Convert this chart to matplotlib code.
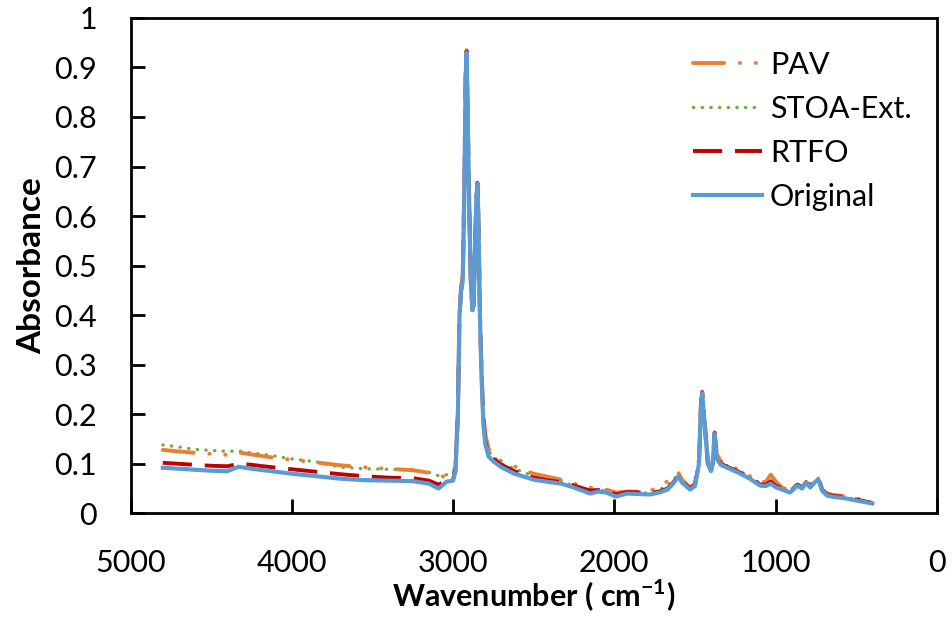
import numpy as np
import matplotlib
matplotlib.use('Agg')
import matplotlib.pyplot as plt

plt.rcParams['font.family'] = ['Lato', 'DejaVu Sans']
plt.rcParams['mathtext.fontset'] = 'custom'
plt.rcParams['mathtext.rm'] = 'Lato'
plt.rcParams['mathtext.bf'] = 'Lato:bold'

# wavenumber grid (cm-1) shared by all four spectra
wn = [4800, 4700, 4600, 4500, 4400, 4330, 4250, 4150, 4000, 3850, 3700, 3550, 3400,
      3250, 3150, 3090, 3040, 3000, 2985, 2970, 2960, 2950, 2940, 2930, 2922, 2916,
      2910, 2900, 2890, 2880, 2872, 2865, 2856, 2849, 2842, 2835, 2825, 2812, 2800,
      2780, 2750, 2700, 2620, 2500, 2400, 2330, 2250, 2150, 2100, 2050, 1990, 1920,
      1850, 1780, 1720, 1670, 1630, 1603, 1580, 1530, 1500, 1475, 1462, 1455, 1445,
      1420, 1400, 1390, 1378, 1365, 1340, 1300, 1230, 1160, 1095, 1060, 1030, 1000,
      960, 910, 865, 835, 810, 785, 750, 735, 710, 680, 640, 580, 500, 400]

original = [0.092, 0.090, 0.088, 0.086, 0.085, 0.094, 0.090, 0.086, 0.080, 0.075, 0.070, 0.067, 0.066,
            0.065, 0.060, 0.050, 0.064, 0.066, 0.085, 0.20, 0.40, 0.45, 0.47, 0.65, 0.88, 0.93,
            0.82, 0.62, 0.47, 0.41, 0.42, 0.52, 0.63, 0.665, 0.58, 0.42, 0.29, 0.18, 0.14,
            0.115, 0.105, 0.093, 0.080, 0.068, 0.063, 0.060, 0.052, 0.040, 0.044, 0.042, 0.034, 0.040,
            0.039, 0.038, 0.042, 0.048, 0.062, 0.075, 0.062, 0.048, 0.055, 0.10, 0.22, 0.243, 0.20,
            0.10, 0.085, 0.10, 0.16, 0.11, 0.098, 0.092, 0.082, 0.070, 0.056, 0.055, 0.060, 0.053,
            0.048, 0.042, 0.056, 0.050, 0.062, 0.052, 0.065, 0.068, 0.045, 0.036, 0.033, 0.031, 0.026, 0.020]

rtfo = [0.102, 0.100, 0.098, 0.096, 0.095, 0.100, 0.098, 0.094, 0.089, 0.084, 0.079, 0.075, 0.072,
        0.071, 0.066, 0.058, 0.066, 0.068, 0.088, 0.20, 0.40, 0.45, 0.47, 0.65, 0.88, 0.932,
        0.82, 0.62, 0.47, 0.41, 0.42, 0.52, 0.63, 0.667, 0.58, 0.43, 0.30, 0.19, 0.145,
        0.12, 0.11, 0.098, 0.085, 0.072, 0.066, 0.063, 0.056, 0.046, 0.047, 0.046, 0.038, 0.043,
        0.042, 0.041, 0.044, 0.050, 0.064, 0.077, 0.064, 0.050, 0.057, 0.10, 0.22, 0.245, 0.20,
        0.10, 0.088, 0.10, 0.162, 0.112, 0.10, 0.094, 0.084, 0.072, 0.058, 0.058, 0.064, 0.056,
        0.050, 0.044, 0.058, 0.052, 0.063, 0.054, 0.068, 0.070, 0.046, 0.038, 0.035, 0.033, 0.028, 0.021]

stoa = [0.138, 0.134, 0.129, 0.127, 0.125, 0.126, 0.122, 0.118, 0.110, 0.104, 0.093, 0.090, 0.089,
        0.088, 0.083, 0.076, 0.078, 0.080, 0.10, 0.21, 0.40, 0.45, 0.47, 0.65, 0.88, 0.93,
        0.82, 0.62, 0.47, 0.41, 0.42, 0.52, 0.63, 0.665, 0.58, 0.43, 0.30, 0.19, 0.15,
        0.125, 0.115, 0.100, 0.090, 0.075, 0.068, 0.065, 0.055, 0.046, 0.048, 0.045, 0.038, 0.042,
        0.041, 0.041, 0.048, 0.056, 0.068, 0.080, 0.066, 0.050, 0.058, 0.10, 0.22, 0.245, 0.20,
        0.10, 0.088, 0.10, 0.162, 0.115, 0.102, 0.096, 0.086, 0.074, 0.060, 0.062, 0.070, 0.058,
        0.050, 0.044, 0.058, 0.053, 0.063, 0.055, 0.068, 0.071, 0.047, 0.038, 0.035, 0.033, 0.028, 0.022]

pav = [0.128, 0.125, 0.122, 0.120, 0.118, 0.123, 0.119, 0.114, 0.108, 0.103, 0.097, 0.093, 0.090,
       0.087, 0.082, 0.074, 0.075, 0.078, 0.10, 0.21, 0.41, 0.46, 0.48, 0.66, 0.89, 0.935,
       0.83, 0.63, 0.48, 0.42, 0.43, 0.53, 0.64, 0.67, 0.59, 0.44, 0.31, 0.20, 0.16,
       0.13, 0.12, 0.105, 0.095, 0.080, 0.073, 0.068, 0.060, 0.052, 0.050, 0.048, 0.042, 0.044,
       0.044, 0.045, 0.055, 0.065, 0.072, 0.082, 0.068, 0.052, 0.060, 0.11, 0.23, 0.25, 0.21,
       0.11, 0.092, 0.105, 0.165, 0.12, 0.105, 0.098, 0.088, 0.075, 0.062, 0.064, 0.078, 0.065,
       0.052, 0.046, 0.058, 0.055, 0.064, 0.058, 0.072, 0.074, 0.048, 0.040, 0.037, 0.035, 0.030, 0.024]

fig = plt.figure(figsize=(9.53, 6.17), dpi=100)
ax = fig.add_axes([0.137, 0.168, 0.846, 0.803])

ax.plot(wn, stoa, color='#70AD47', lw=2.4, ls=(0, (0.1, 2.5)), dash_capstyle='round',
        label='STOA-Ext.', zorder=2)
ax.plot(wn, pav, color='#ED7D31', lw=2.8, ls=(0, (8, 4, 0.1, 4, 0.1, 4)),
        dash_capstyle='round', label='PAV', zorder=3)
ax.plot(wn, rtfo, color='#C00000', lw=2.8, ls=(0, (7.5, 3.3)), label='RTFO', zorder=4)
ax.plot(wn, original, color='#5B9BD5', lw=3, label='Original', zorder=5)

ax.set_xlim(5000, 0)
ax.set_ylim(0, 1)
ax.set_xticks(np.arange(5000, -1, -1000))
ax.set_yticks(np.round(np.arange(0, 1.01, 0.1), 1))
ax.set_yticklabels(['0', '0.1', '0.2', '0.3', '0.4', '0.5', '0.6', '0.7', '0.8', '0.9', '1'])
ax.tick_params(direction='in', length=10, width=2, labelsize=22)
ax.tick_params(axis='x', pad=26)
ax.tick_params(axis='y', pad=24)
for s in ax.spines.values():
    s.set_linewidth(2)

ax.set_xlabel('Wavenumber ( cm$^{\\mathbf{-1}}$)', fontsize=22, fontweight='bold', labelpad=0)
ax.set_ylabel('Absorbance', fontsize=24, fontweight='bold', labelpad=6)

h, l = ax.get_legend_handles_labels()
order = [l.index(k) for k in ['PAV', 'STOA-Ext.', 'RTFO', 'Original']]
ax.legend([h[i] for i in order], [l[i] for i in order], loc='upper left',
          bbox_to_anchor=(0.727, 0.918), bbox_transform=fig.transFigure,
          frameon=False, fontsize=22, handlelength=2.26, handletextpad=0.26,
          labelspacing=0.53, borderpad=0, borderaxespad=0)

fig.savefig('out.png', dpi=100)
